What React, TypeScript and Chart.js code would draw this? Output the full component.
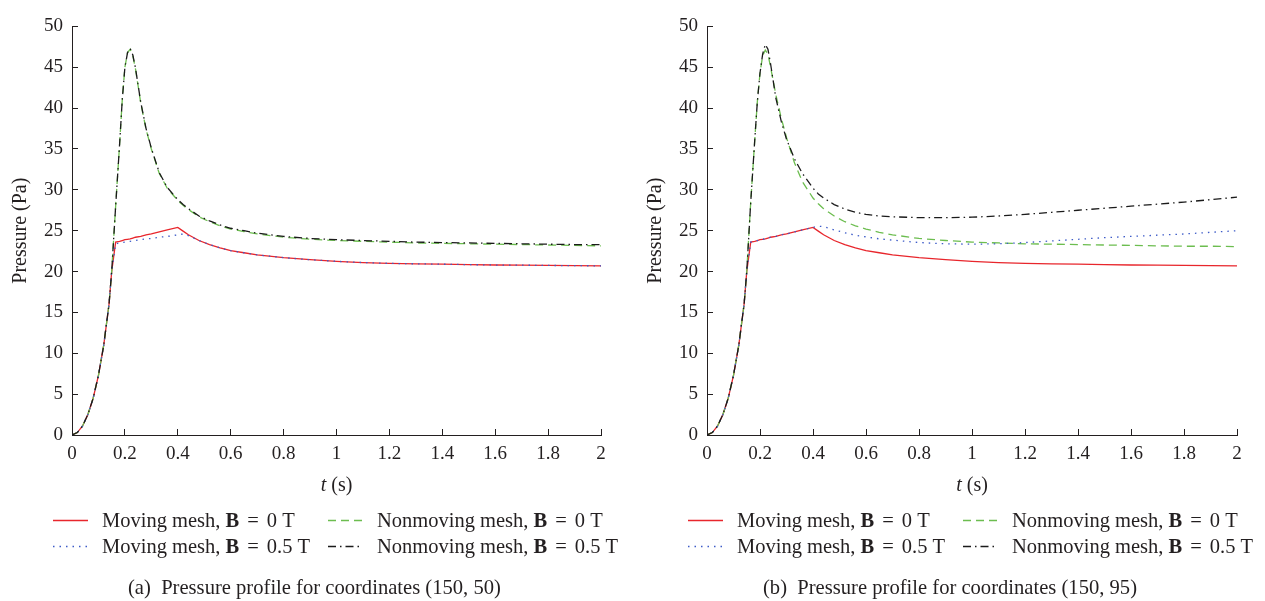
import React, { useEffect, useRef } from 'react';
import { Chart, registerables } from 'chart.js';

Chart.register(...registerables);

// ---------- data ----------
const TIME = [
  0, 0.02, 0.04, 0.06, 0.08, 0.1, 0.12, 0.14, 0.15, 0.165, 0.18, 0.19, 0.2, 0.21, 0.22, 0.23, 0.24,
  0.26, 0.28, 0.3, 0.33, 0.36, 0.4, 0.42, 0.44, 0.48, 0.52, 0.56, 0.6, 0.65, 0.7, 0.8, 0.9, 1.0,
  1.1, 1.2, 1.3, 1.4, 1.5, 1.6, 1.7, 1.8, 1.9, 2.0,
];

const X_TICKS = [0, 0.2, 0.4, 0.6, 0.8, 1, 1.2, 1.4, 1.6, 1.8, 2];
const Y_TICKS = [0, 5, 10, 15, 20, 25, 30, 35, 40, 45, 50];

// Moving mesh, B = 0 T (same in both panels)
const MOVING_B0 = [
  0, 0.3, 1.1, 2.5, 4.5, 7.3, 11.0, 16.0, 20.0, 23.6, 23.7, 23.8, 23.9, 23.95, 24.0, 24.1, 24.2,
  24.3, 24.5, 24.6, 24.85, 25.1, 25.4, 24.95, 24.5, 23.8, 23.3, 22.9, 22.55, 22.3, 22.05, 21.7, 21.45, 21.25,
  21.1, 21.0, 20.95, 20.9, 20.85, 20.8, 20.78, 20.75, 20.72, 20.7,
];

// Panel (a): coordinates (150, 50)
const MOVING_B05_A = [
  0, 0.3, 1.1, 2.5, 4.5, 7.3, 11.0, 16.0, 20.0, 23.4, 23.5, 23.55, 23.6, 23.65, 23.7, 23.75, 23.8,
  23.9, 24.0, 24.05, 24.2, 24.3, 24.5, 24.6, 24.4, 23.8, 23.3, 22.9, 22.55, 22.3, 22.05, 21.7, 21.45, 21.25,
  21.1, 21.0, 20.95, 20.9, 20.85, 20.8, 20.78, 20.75, 20.72, 20.7,
];
const NONMOVING_B0_A = [
  0, 0.3, 1.1, 2.5, 4.5, 7.3, 11.0, 16.0, 20.0, 28.0, 35.6, 41.0, 45.0, 46.8, 47.2, 46.4, 44.8,
  40.6, 37.4, 35.0, 32.0, 30.2, 28.7, 28.1, 27.6, 26.7, 26.1, 25.6, 25.2, 24.9, 24.6, 24.2, 23.95, 23.8,
  23.7, 23.6, 23.5, 23.45, 23.4, 23.35, 23.3, 23.25, 23.2, 23.15,
];
const NONMOVING_B05_A = [
  0, 0.3, 1.1, 2.5, 4.5, 7.3, 11.0, 16.0, 20.0, 28.0, 35.6, 41.0, 45.0, 46.8, 47.3, 46.5, 44.9,
  40.7, 37.5, 35.1, 32.1, 30.3, 28.8, 28.2, 27.7, 26.8, 26.2, 25.7, 25.3, 25.0, 24.7, 24.3, 24.05, 23.9,
  23.8, 23.7, 23.6, 23.55, 23.5, 23.45, 23.4, 23.35, 23.3, 23.3,
];

// Panel (b): coordinates (150, 95)
const MOVING_B05_B = [
  0, 0.3, 1.1, 2.5, 4.5, 7.3, 11.0, 16.0, 20.0, 23.6, 23.7, 23.8, 23.9, 23.95, 24.0, 24.1, 24.2,
  24.3, 24.5, 24.6, 24.85, 25.1, 25.4, 25.55, 25.5, 25.1, 24.75, 24.45, 24.25, 24.0, 23.85, 23.55, 23.4, 23.35,
  23.4, 23.55, 23.75, 23.95, 24.15, 24.3, 24.45, 24.6, 24.8, 25.0,
];
const NONMOVING_B0_B = [
  0, 0.3, 1.1, 2.5, 4.5, 7.3, 11.0, 16.0, 20.0, 28.5, 36.0, 40.8, 44.3, 46.4, 47.1, 46.6, 45.0,
  41.6, 38.8, 36.4, 33.3, 31.0, 29.0, 28.3, 27.7, 26.8, 26.1, 25.6, 25.2, 24.8, 24.5, 24.05, 23.8, 23.6,
  23.5, 23.4, 23.35, 23.3, 23.25, 23.2, 23.15, 23.1, 23.1, 23.05,
];
const NONMOVING_B05_B = [
  0, 0.3, 1.1, 2.5, 4.5, 7.3, 11.0, 16.0, 20.0, 28.5, 36.0, 40.8, 44.3, 46.6, 47.8, 47.2, 45.4,
  41.2, 38.4, 36.2, 33.8, 32.0, 30.2, 29.5, 29.0, 28.2, 27.65, 27.25, 27.0, 26.8, 26.7, 26.6, 26.6, 26.65,
  26.8, 27.0, 27.25, 27.5, 27.75, 28.0, 28.25, 28.5, 28.8, 29.1,
];

const LEGEND_NAMES = ['Moving mesh, ', 'Nonmoving mesh, ', 'Moving mesh, ', 'Nonmoving mesh, '];
const LEGEND_FIELDS = ['0 T', '0 T', '0.5 T', '0.5 T'];
const CAPTIONS = [
  '(a)  Pressure profile for coordinates (150, 50)',
  '(b)  Pressure profile for coordinates (150, 95)',
];
const Y_TITLE = 'Pressure (Pa)';

// ---------- styles ----------
const SERIF = '"Liberation Serif", "Times New Roman", serif';
const TEXT = '#231f20';
const SERIES_STYLE = [
  { color: '#e8262c', dash: [] as number[], order: 3 },
  { color: '#6cbd4f', dash: [8, 5], order: 2 },
  { color: '#3d5bc8', dash: [1.5, 5], order: 1 },
  { color: '#1b1b1b', dash: [8, 4, 1.5, 4], order: 0 },
];

function fmt(v: number) {
  return String(Math.round(v * 10) / 10);
}

const overlayPlugin = {
  id: 'overlay',
  afterDraw(chart: any, _args: any, opts: any) {
    const ctx = chart.ctx as CanvasRenderingContext2D;
    const area = chart.chartArea;
    ctx.save();
    ctx.fillStyle = TEXT;
    // x title: italic t (s)
    ctx.textBaseline = 'middle';
    ctx.font = `italic 20px ${SERIF}`;
    const tW = ctx.measureText('t').width;
    ctx.font = `20px ${SERIF}`;
    const rest = ' (s)';
    const rW = ctx.measureText(rest).width;
    const cx = (area.left + area.right) / 2;
    const x0 = cx - (tW + rW) / 2;
    ctx.font = `italic 20px ${SERIF}`;
    ctx.textAlign = 'left';
    ctx.fillText('t', x0, 486);
    ctx.font = `20px ${SERIF}`;
    ctx.fillText(rest, x0 + tW, 486);

    // legend
    const cols = [53, 328];
    const rows = [520, 546];
    chart.data.datasets.forEach((ds: any, i: number) => {
      const col = i % 2;
      const row = Math.floor(i / 2);
      const sx = cols[col];
      const sy = rows[row];
      ctx.save();
      ctx.strokeStyle = ds.borderColor;
      ctx.lineWidth = ds.borderWidth;
      ctx.setLineDash(ds.borderDash || []);
      ctx.beginPath();
      ctx.moveTo(sx, sy + 0.5);
      ctx.lineTo(sx + 35, sy + 0.5);
      ctx.stroke();
      ctx.restore();
      let tx = sx + 49;
      const ty = sy + 7;
      ctx.textBaseline = 'alphabetic';
      ctx.font = `20.5px ${SERIF}`;
      ctx.fillText(LEGEND_NAMES[i], tx, ty);
      tx += ctx.measureText(LEGEND_NAMES[i]).width;
      ctx.font = `bold 20.5px ${SERIF}`;
      ctx.fillText('B', tx, ty);
      tx += ctx.measureText('B').width + 8;
      ctx.font = `20.5px ${SERIF}`;
      ctx.fillText('=', tx, ty);
      tx += ctx.measureText('=').width + 8;
      ctx.fillText(LEGEND_FIELDS[i], tx, ty);
    });

    // caption
    ctx.font = `20.6px ${SERIF}`;
    ctx.textBaseline = 'alphabetic';
    ctx.fillText(opts.caption, 128, 594);
    ctx.restore();
  },
};

function Panel({ series, caption, width, padRight }: { series: number[][]; caption: string; width: number; padRight: number }) {
  const ref = useRef<HTMLCanvasElement | null>(null);
  useEffect(() => {
    if (!ref.current) return;
    const datasets = series.map((arr, i) => ({
      label: LEGEND_NAMES[i] + 'B = ' + LEGEND_FIELDS[i],
      data: TIME.map((t, j) => ({ x: t, y: arr[j] })),
      borderColor: SERIES_STYLE[i].color,
      borderDash: SERIES_STYLE[i].dash,
      borderWidth: 1.3,
      pointRadius: 0,
      tension: 0,
      fill: false,
      order: SERIES_STYLE[i].order,
    }));
    const chart = new Chart(ref.current, {
      type: 'line',
      data: { datasets },
      plugins: [overlayPlugin],
      options: {
        responsive: false,
        animation: false,
        layout: { padding: { left: 0, top: 18, right: padRight, bottom: 0 } },
        plugins: {
          legend: { display: false },
          tooltip: { enabled: false },
          overlay: { caption },
        } as any,
        scales: {
          x: {
            type: 'linear',
            min: 0,
            max: 2,
            afterBuildTicks: (scale: any) => {
              scale.ticks = X_TICKS.map((v) => ({ value: v }));
            },
            afterFit: (scale: any) => {
              scale.height = 166;
            },
            grid: { drawOnChartArea: false, tickLength: -6, color: TEXT, lineWidth: 1 },
            border: { display: true, color: TEXT, width: 1 },
            ticks: {
              font: { family: SERIF, size: 19 },
              color: TEXT,
              padding: 14,
              maxRotation: 0,
              autoSkip: false,
              callback: (v: any) => fmt(Number(v)),
            },
          },
          y: {
            type: 'linear',
            min: 0,
            max: 50,
            afterBuildTicks: (scale: any) => {
              scale.ticks = Y_TICKS.map((v) => ({ value: v }));
            },
            afterFit: (scale: any) => {
              scale.width = 72;
            },
            grid: { drawOnChartArea: false, tickLength: -6, color: TEXT, lineWidth: 1 },
            border: { display: true, color: TEXT, width: 1 },
            ticks: {
              font: { family: SERIF, size: 19 },
              color: TEXT,
              padding: 15,
              autoSkip: false,
              callback: (v: any) => fmt(Number(v)),
            },
            title: {
              display: true,
              text: Y_TITLE,
              font: { family: SERIF, size: 20 },
              color: TEXT,
              padding: { top: 9, bottom: 0 },
            },
          },
        },
      } as any,
    });
    return () => chart.destroy();
  }, [series, caption, padRight]);
  return <canvas ref={ref} width={width} height={601} style={{ display: 'block', width, height: 601 }} />;
}

const SERIES_A = [MOVING_B0, NONMOVING_B0_A, MOVING_B05_A, NONMOVING_B05_A];
const SERIES_B = [MOVING_B0, NONMOVING_B0_B, MOVING_B05_B, NONMOVING_B05_B];

export default function App() {
  return (
    <div
      style={{
        position: 'absolute',
        left: 0,
        top: 0,
        width: 1265,
        height: 601,
        overflow: 'hidden',
        background: '#fff',
        display: 'flex',
      }}
    >
      <Panel series={SERIES_A} caption={CAPTIONS[0]} width={635} padRight={34} />
      <Panel series={SERIES_B} caption={CAPTIONS[1]} width={630} padRight={28} />
    </div>
  );
}
